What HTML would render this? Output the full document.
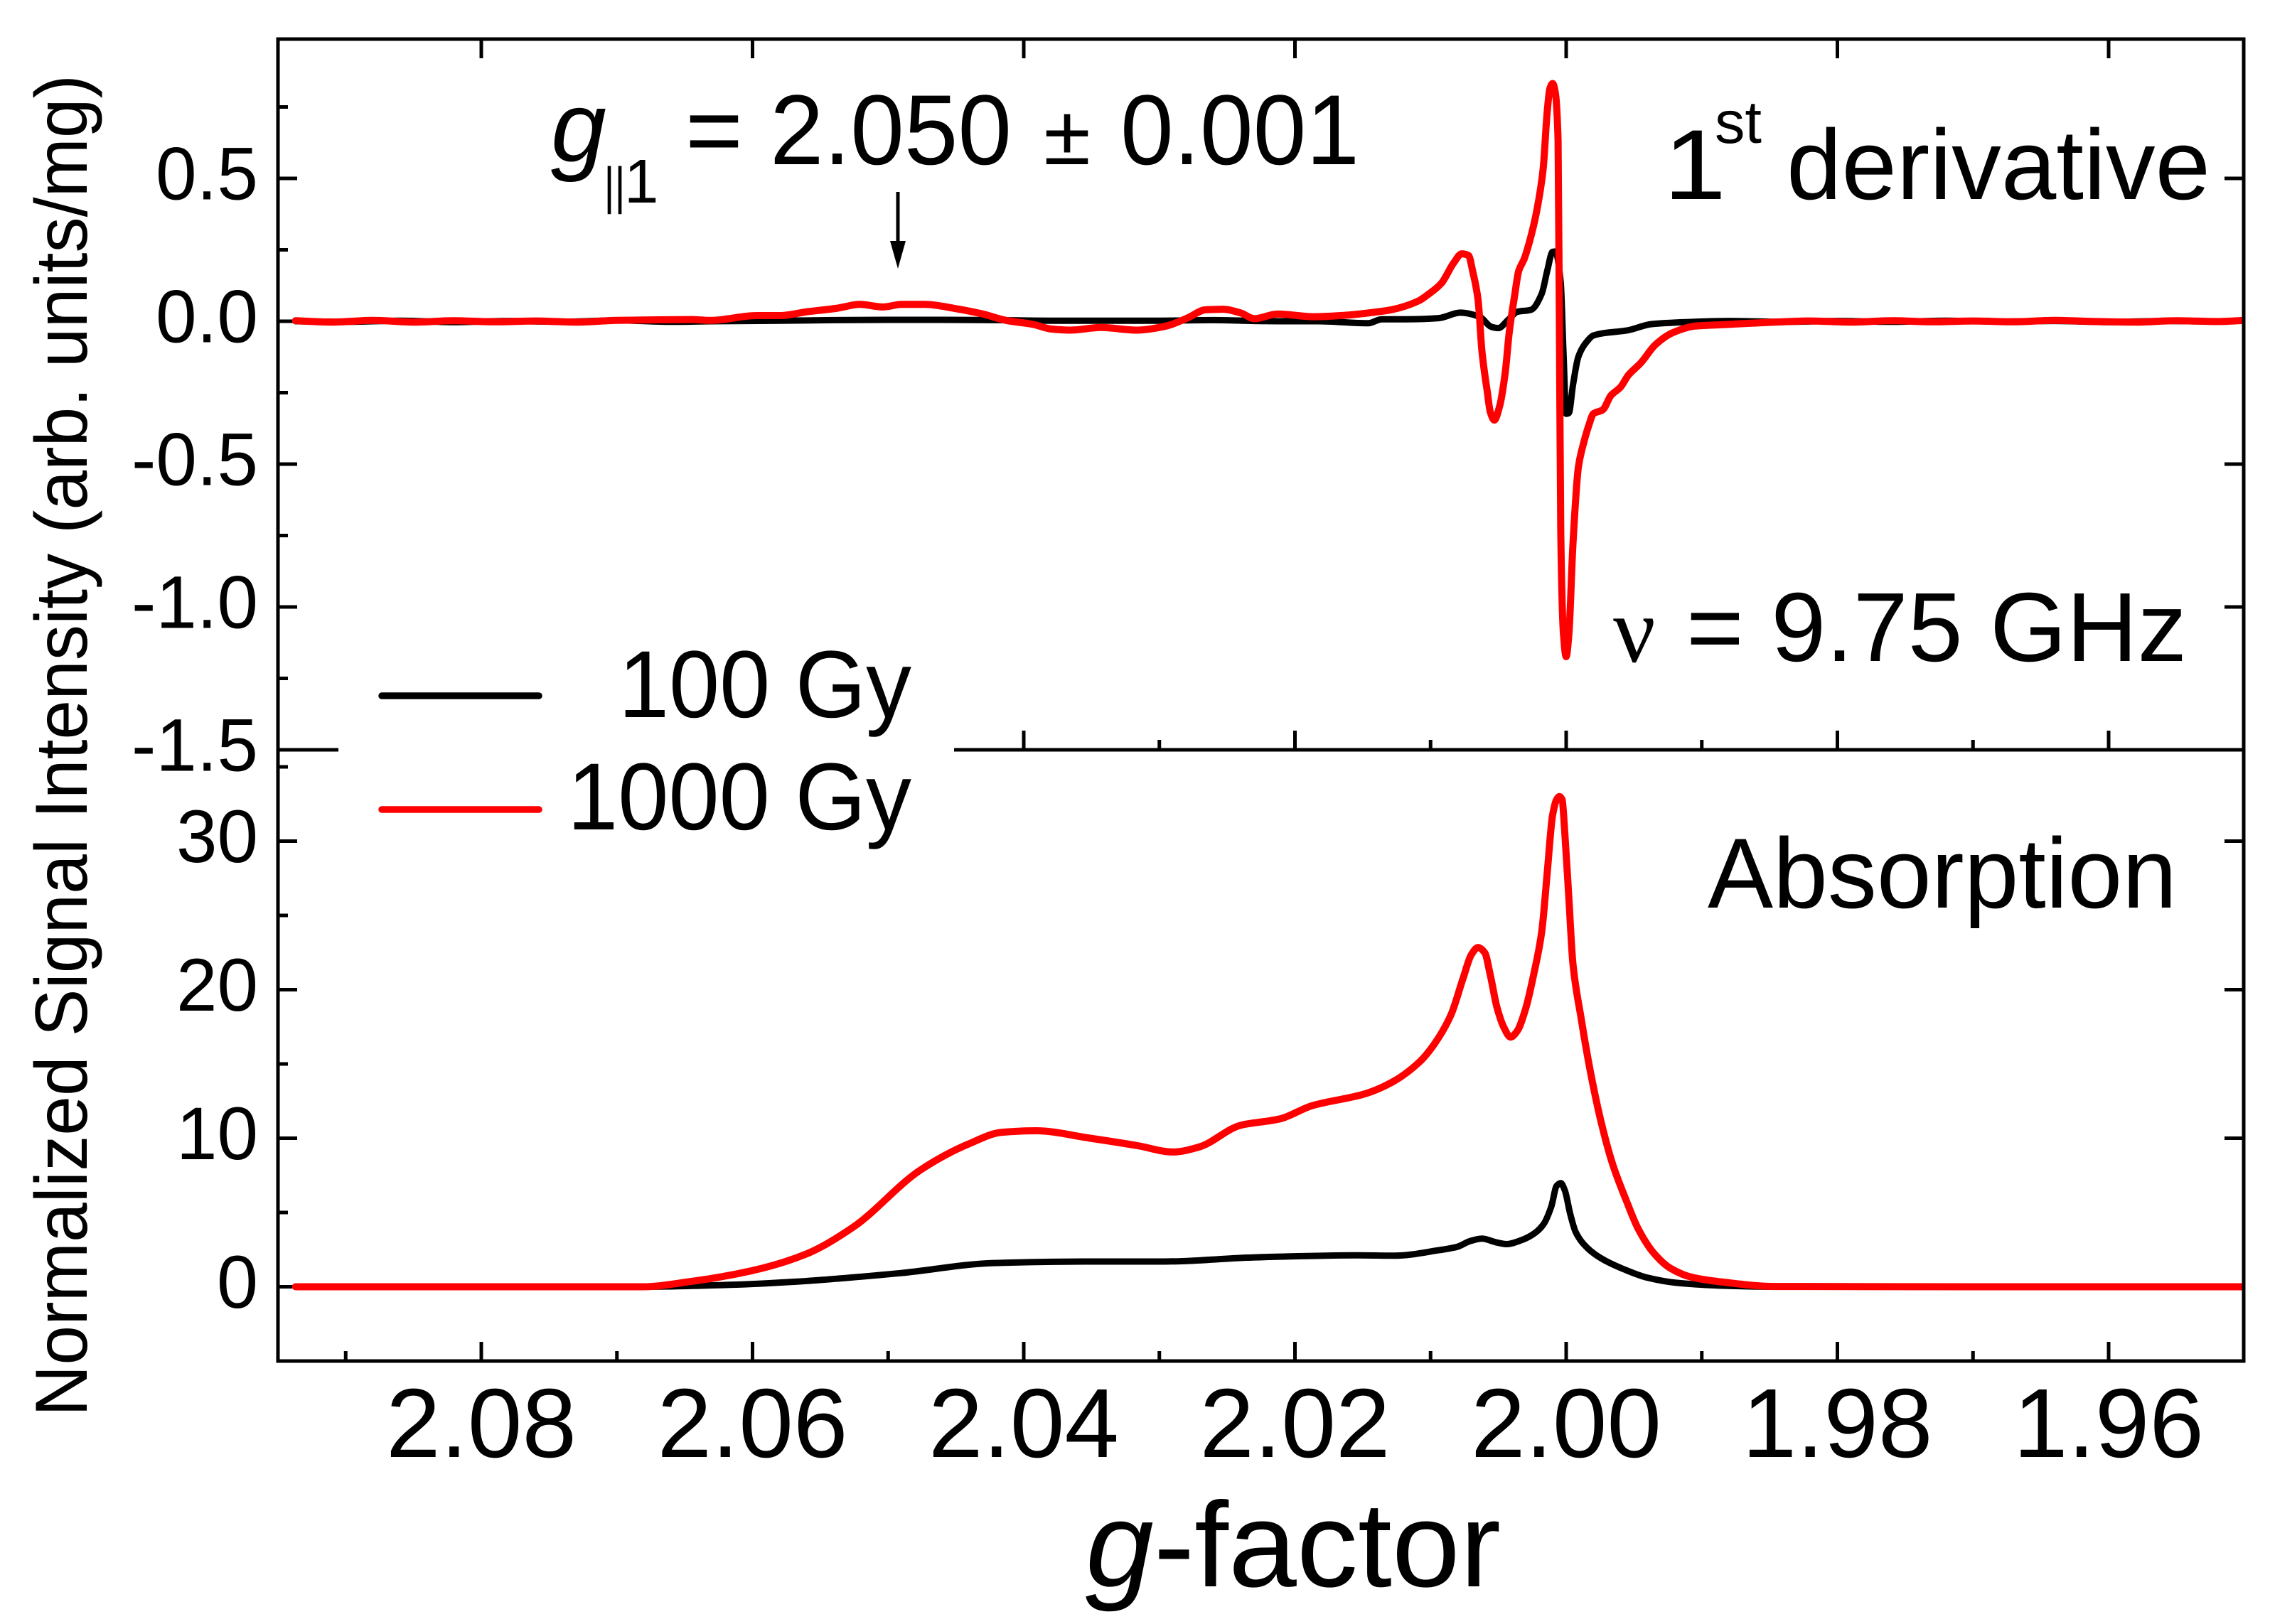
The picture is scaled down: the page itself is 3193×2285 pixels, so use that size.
<!DOCTYPE html>
<html lang="en">
<head>
<meta charset="utf-8">
<title>EPR spectra: g-factor</title>
<style>
html,body{margin:0;padding:0;background:#fff;}
svg{display:block;}
text{font-family:"Liberation Sans",sans-serif;fill:#000;}
</style>
</head>
<body>
<svg id="chart" xmlns="http://www.w3.org/2000/svg" width="3193" height="2285" viewBox="0 0 3193 2285">
  <rect x="0" y="0" width="3193" height="2285" fill="#fff"/>
  <clipPath id="plot-clip"><rect x="391" y="55" width="2765" height="1860"/></clipPath>
  <g id="ticks"></g>
  <g id="curves" clip-path="url(#plot-clip)"></g>
  <rect x="391" y="55" width="2765" height="1860" fill="none" stroke="#000" stroke-width="5"/>
  <line x1="391" y1="1055" x2="3156" y2="1055" stroke="#000" stroke-width="5"/>
  <rect x="476" y="1010" width="866" height="90" fill="#fff"/>
  <g id="ticklabels"></g>

  <text transform="translate(122,1993) rotate(-90)" font-size="104" textLength="1888" lengthAdjust="spacingAndGlyphs">Normalized Signal Intensity (arb. units/mg)</text>
  <text x="1527" y="2232" font-size="170" textLength="584" lengthAdjust="spacingAndGlyphs"><tspan font-style="italic">g</tspan>-factor</text>

  <g>
    <text x="775" y="227" font-size="140" font-style="italic">g</text>
    <text x="849.5" y="286" font-size="72" textLength="30" lengthAdjust="spacingAndGlyphs">||</text>
    <text x="878" y="285" font-size="87">1</text>
    <text x="964" y="231" font-size="140" textLength="81" lengthAdjust="spacingAndGlyphs">=</text>
    <text x="1083" y="231" font-size="140" textLength="340" lengthAdjust="spacingAndGlyphs">2.050</text>
    <text x="1468" y="231" font-size="118" textLength="66" lengthAdjust="spacingAndGlyphs">±</text>
    <text x="1576" y="231" font-size="140" textLength="336" lengthAdjust="spacingAndGlyphs">0.001</text>
    <line x1="1263" y1="270" x2="1263" y2="345" stroke="#000" stroke-width="5"/>
    <path d="M1252 339 L1274 339 L1263 378 Z" fill="#000"/>
  </g>

  <g>
    <text x="2340" y="280" font-size="140" textLength="88" lengthAdjust="spacingAndGlyphs">1</text>
    <text x="2412" y="201" font-size="84" textLength="66" lengthAdjust="spacingAndGlyphs">st</text>
    <text x="2513" y="280" font-size="140" textLength="596" lengthAdjust="spacingAndGlyphs">derivative</text>
  </g>

  <g>
    <text x="2269" y="931" font-size="132" style="font-family:'Liberation Serif',serif">ν</text>
    <text x="2372" y="930" font-size="138" textLength="704" lengthAdjust="spacingAndGlyphs">= 9.75 GHz</text>
  </g>

  <text x="2402" y="1277" font-size="140" textLength="660" lengthAdjust="spacingAndGlyphs">Absorption</text>

  <g>
    <line x1="537" y1="979" x2="758" y2="979" stroke="#000" stroke-width="9.5" stroke-linecap="round"/>
    <text x="870" y="1009" font-size="134" textLength="412" lengthAdjust="spacingAndGlyphs">100 Gy</text>
    <line x1="537" y1="1139" x2="758" y2="1139" stroke="#ff0000" stroke-width="9.5" stroke-linecap="round"/>
    <text x="798" y="1167" font-size="134" textLength="484" lengthAdjust="spacingAndGlyphs">1000 Gy</text>
  </g>
</svg>
<script>
// Axis tick values
const xMajorTicks = [2.08, 2.06, 2.04, 2.02, 2.00, 1.98, 1.96];
const xMajorLabels = ["2.08", "2.06", "2.04", "2.02", "2.00", "1.98", "1.96"];
const xMinorTicks = [2.09, 2.07, 2.05, 2.03, 2.01, 1.99, 1.97];
const derivMajorTicks = [0.5, 0.0, -0.5, -1.0, -1.5];
const derivMajorLabels = ["0.5", "0.0", "-0.5", "-1.0", "-1.5"];
const derivMinorTicks = [0.75, 0.25, -0.25, -0.75, -1.25];
const absMajorTicks = [30, 20, 10, 0];
const absMajorLabels = ["30", "20", "10", "0"];
const absMinorTicks = [35, 25, 15, 5];

// 1st derivative, 100 Gy
const deriv100G = [2.0937,2.09,2.086,2.082,2.078,2.074,2.07,2.066,2.063,2.058,2.054,2.05,2.046,2.042,2.038,2.034,2.03,2.026,2.023,2.0211,2.0183,2.0146,2.0136,2.0118,2.0094,2.0078,2.0064,2.0055,2.005,2.0043,2.0036,2.0026,2.0018,2.0014,2.001,2.0008,2.0004,2.0002,2.0,1.9998,1.9995,1.9991,1.9984,1.998,1.9954,1.9937,1.9912,1.988,1.984,1.98,1.976,1.972,1.968,1.964,1.96,1.956,1.952,1.95];
const deriv100V = [0.0,-0.002,0.002,-0.003,0.001,-0.002,0.003,-0.002,0.0,0.002,0.004,0.005,0.005,0.004,0.002,0.002,0.002,0.004,0.001,0.0,0.0,-0.007,0.007,0.007,0.011,0.03,0.016,-0.02,-0.024,0.004,0.033,0.04,0.097,0.176,0.243,0.244,0.133,-0.11,-0.324,-0.321,-0.224,-0.124,-0.067,-0.05,-0.031,-0.01,-0.003,0.001,-0.002,0.001,-0.002,0.002,-0.001,0.001,-0.003,0.001,-0.001,0.002];

// 1st derivative, 1000 Gy
const deriv1000G = [2.0937,2.091,2.088,2.085,2.082,2.079,2.076,2.073,2.07,2.067,2.0645,2.0631,2.0597,2.058,2.056,2.0537,2.0521,2.0504,2.049,2.0473,2.045,2.043,2.0413,2.0393,2.038,2.0366,2.0343,2.0317,2.0296,2.0279,2.0266,2.0253,2.024,2.023,2.0213,2.0186,2.0163,2.0139,2.0129,2.0109,2.0102,2.0092,2.0083,2.0077,2.0072,2.0069,2.0065,2.0062,2.0058,2.0056,2.0053,2.0049,2.0045,2.0042,2.0038,2.0035,2.0031,2.0026,2.0021,2.0017,2.0014,2.0012,2.001,2.0008,2.0006,2.0005,2.0004,2.0002,2.0,1.9998,1.9995,1.9991,1.9987,1.9983,1.998,1.9973,1.9967,1.996,1.9954,1.9945,1.9934,1.9921,1.9905,1.9884,1.9846,1.982,1.979,1.976,1.973,1.97,1.967,1.964,1.961,1.958,1.955,1.952,1.95];
const deriv1000V = [0.002,-0.003,0.003,-0.003,0.002,-0.002,0.001,-0.003,0.003,0.005,0.006,0.003,0.02,0.02,0.033,0.046,0.059,0.05,0.059,0.059,0.044,0.025,0.003,-0.011,-0.027,-0.031,-0.022,-0.031,-0.018,0.012,0.04,0.042,0.029,0.009,0.025,0.016,0.021,0.033,0.04,0.071,0.093,0.133,0.204,0.236,0.23,0.176,0.076,-0.11,-0.253,-0.317,-0.346,-0.296,-0.181,-0.039,0.09,0.176,0.218,0.297,0.404,0.533,0.733,0.815,0.832,0.8,0.633,-0.024,-0.738,-1.095,-1.174,-1.095,-0.781,-0.51,-0.424,-0.36,-0.324,-0.31,-0.26,-0.231,-0.188,-0.146,-0.081,-0.039,-0.017,-0.012,-0.003,0.001,-0.003,0.002,-0.002,0.001,-0.002,0.003,-0.001,-0.003,0.002,-0.001,0.003];

// Absorption, 100 Gy
const abs100G = [2.0937,2.08,2.0681,2.0617,2.0567,2.0491,2.0421,2.0345,2.0296,2.0235,2.0211,2.0153,2.0127,2.0094,2.008,2.0071,2.0062,2.0052,2.0044,2.0033,2.0024,2.0017,2.0011,2.0007,2.0004,2.0001,1.9997,1.9993,1.9984,1.9973,1.9959,1.994,1.9919,1.9884,1.9846,1.97,1.95];
const abs100V = [0,0,0,0.13,0.35,0.92,1.6,1.7,1.7,1.96,2.03,2.12,2.09,2.46,2.7,3.07,3.24,3.0,2.87,3.14,3.56,4.17,5.39,6.8,6.98,6.49,4.9,3.68,2.58,1.85,1.24,0.61,0.27,0.07,0,0,0];

// Absorption, 1000 Gy
const abs1000G = [2.0937,2.08,2.0681,2.0646,2.0601,2.0561,2.0526,2.0476,2.0441,2.0416,2.0391,2.0351,2.0316,2.029,2.0271,2.024,2.0211,2.0188,2.0148,2.0129,2.0108,2.0097,2.0085,2.0076,2.007,2.0065,2.006,2.0056,2.0051,2.0046,2.0041,2.0036,2.003,2.0024,2.0018,2.0014,2.001,2.0007,2.0005,2.0003,2.0001,1.9998,1.9995,1.9989,1.9982,1.9974,1.9966,1.9956,1.9947,1.9935,1.9923,1.9907,1.9884,1.9846,1.97,1.95];
const abs1000V = [0,0,0,0.35,1.07,2.18,4.0,7.87,9.6,10.4,10.5,10.0,9.5,9.07,9.4,10.87,11.3,12.17,13.0,13.74,15.15,16.37,18.3,20.77,22.35,22.84,22.48,21.0,18.8,17.47,16.81,17.23,18.69,21.0,23.94,27.85,31.75,32.8,33.0,32.8,30.53,26.14,21.74,18.08,14.42,11.0,8.32,5.88,3.92,2.22,1.24,0.63,0.31,0.02,0,0];

const SVG_NS = "http://www.w3.org/2000/svg";
function xScale(g) { return 2203 + (2.00 - g) * 19075; }
function yDeriv(v) { return 452 - 402 * v; }
function yAbs(v) { return 1810.5 - 20.9 * v; }

const tickGroup = document.getElementById("ticks");
const labelGroup = document.getElementById("ticklabels");
const curveGroup = document.getElementById("curves");

function tickLine(x1, y1, x2, y2) {
  const el = document.createElementNS(SVG_NS, "line");
  el.setAttribute("x1", x1);
  el.setAttribute("y1", y1);
  el.setAttribute("x2", x2);
  el.setAttribute("y2", y2);
  el.setAttribute("stroke", "#000");
  el.setAttribute("stroke-width", "5");
  
  
  tickGroup.appendChild(el);
}
function tickText(str, x, y, size, len) {
  const el = document.createElementNS(SVG_NS, "text");
  el.setAttribute("x", x);
  el.setAttribute("y", y);
  el.setAttribute("font-size", size);
  el.setAttribute("text-anchor", "end");
  el.setAttribute("textLength", len);
  el.setAttribute("lengthAdjust", "spacingAndGlyphs");
  el.textContent = str;
  
  
  labelGroup.appendChild(el);
}
// Monotone cubic path through the mapped points, so peaks stay smooth with no overshoot
function smoothPath(xs, ys) {
  const n = xs.length;
  const slope = [];
  for (let i = 0; i < n - 1; i++) slope.push((ys[i + 1] - ys[i]) / (xs[i + 1] - xs[i]));
  const m = [slope[0]];
  for (let i = 1; i < n - 1; i++) {
    if (slope[i - 1] * slope[i] <= 0) { m.push(0); continue; }
    const h0 = xs[i] - xs[i - 1];
    const h1 = xs[i + 1] - xs[i];
    const w1 = 2 * h1 + h0;
    const w2 = h1 + 2 * h0;
    m.push((w1 + w2) / (w1 / slope[i - 1] + w2 / slope[i]));
  }
  m.push(slope[n - 2]);
  let d = "M" + xs[0].toFixed(1) + " " + ys[0].toFixed(1);
  for (let i = 0; i < n - 1; i++) {
    const h = (xs[i + 1] - xs[i]) / 3;
    d += " C" + (xs[i] + h).toFixed(1) + " " + (ys[i] + m[i] * h).toFixed(1) + " " +
      (xs[i + 1] - h).toFixed(1) + " " + (ys[i + 1] - m[i + 1] * h).toFixed(1) + " " +
      xs[i + 1].toFixed(1) + " " + ys[i + 1].toFixed(1);
  }
  return d;
}
function curve(gs, vs, yFn, color, width, name) {
  const el = document.createElementNS(SVG_NS, "path");
  el.setAttribute("d", smoothPath(gs.map(xScale), vs.map(yFn)));
  el.setAttribute("fill", "none");
  el.setAttribute("stroke", color);
  el.setAttribute("stroke-width", width);
  el.setAttribute("stroke-linejoin", "round");
  el.setAttribute("stroke-linecap", "round");
  
  
  curveGroup.appendChild(el);
}

// X ticks
xMajorTicks.forEach(function (g, i) {
  const x = xScale(g);
  tickLine(x, 55, x, 82);
  tickLine(x, 1055, x, 1028);
  tickLine(x, 1915, x, 1888);
  tickText(xMajorLabels[i], x + 134, 2050, 138, 268);
});
xMinorTicks.forEach(function (g) {
  const x = xScale(g);
  tickLine(x, 1055, x, 1041);
  tickLine(x, 1915, x, 1901);
});

// Y ticks, upper panel
derivMajorTicks.forEach(function (v, i) {
  const y = yDeriv(v);
  tickLine(391, y, 418, y);
  tickLine(3156, y, 3129, y);
  const s = derivMajorLabels[i];
  tickText(s, 363, y + 29.5, 105, s.charAt(0) === "-" ? 178 : 144);
});
derivMinorTicks.forEach(function (v) {
  const y = yDeriv(v);
  tickLine(391, y, 405, y);
});

// Y ticks, lower panel
absMajorTicks.forEach(function (v, i) {
  const y = yAbs(v);
  tickLine(391, y, 418, y);
  tickLine(3156, y, 3129, y);
  const s = absMajorLabels[i];
  tickText(s, 363, y + 29.5, 105, s.length === 2 ? 115 : 58);
});
absMinorTicks.forEach(function (v) {
  const y = yAbs(v);
  tickLine(391, y, 405, y);
});

// Curves
curve(deriv100G, deriv100V, yDeriv, "#000", 9, "derivative-100-gy-line");
curve(deriv1000G, deriv1000V, yDeriv, "#ff0000", 10, "derivative-1000-gy-line");
curve(abs100G, abs100V, yAbs, "#000", 9, "absorption-100-gy-line");
curve(abs1000G, abs1000V, yAbs, "#ff0000", 10, "absorption-1000-gy-line");
</script>
</body>
</html>
